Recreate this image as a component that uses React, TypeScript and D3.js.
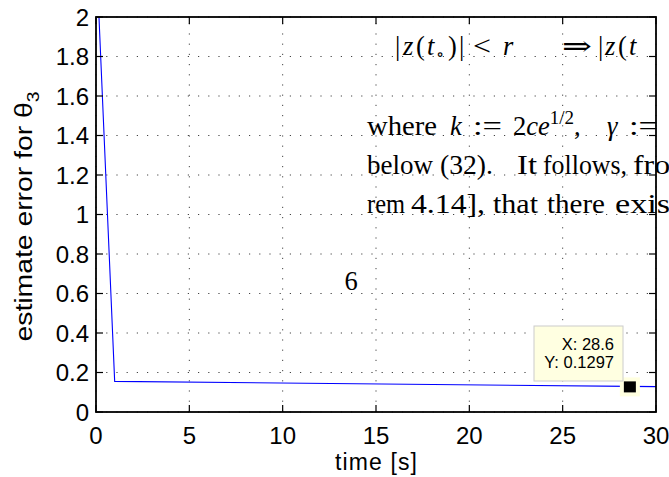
import * as d3 from "d3";

// series: estimate error for theta_3 over time
const timeValues = [0, 1, 28.6, 30];
const errorValues = [2.35, 0.155, 0.1297, 0.1285];

const xTicks = [0, 5, 10, 15, 20, 25, 30];
const yTicks = [0, 0.2, 0.4, 0.6, 0.8, 1, 1.2, 1.4, 1.6, 1.8, 2];

const tipX = 28.6;
const tipY = 0.1297;

// page text lying over the figure
const belowWords = ["below", "(32).", "It", "follows,", "from"];
const remWords = ["rem", "4.14],", "that", "there", "exists"];

const W = 669;
const H = 477;
const sans = "'Liberation Sans', Arial, sans-serif";
const serif = "'Liberation Serif', 'DejaVu Serif', serif";
const F = 26.5;

// word boxes [left, width] measured off the page scan
const belowBoxes = [[367, 66], [440, 53], [517, 20], [543, 84], [633, 62]];
const remBoxes = [[367, 38], [411, 74], [493, 45], [547, 58], [615, 78]];

function wordRow(words: string[], boxes: number[][], y: number) {
  return words.map((w, i) => (
    <text key={w + i} x={boxes[i][0]} y={y} textLength={boxes[i][1]} lengthAdjust="spacingAndGlyphs">{w}</text>
  ));
}

export default function App() {
  const xScale = d3.scaleLinear().domain([0, 30]).range([96, 656]);
  const yScale = d3.scaleLinear().domain([0, 2]).range([412, 17]);

  const pts: [number, number][] = timeValues.map((t, i) => [t, errorValues[i]]);
  const line = d3
    .line<[number, number]>()
    .x((d) => xScale(d[0]))
    .y((d) => yScale(d[1]));

  const x0 = xScale(0);
  const x1 = xScale(30);
  const y0 = yScale(0);
  const y1 = yScale(2);
  const tick = 7;
  const px = xScale(tipX);
  const py = yScale(tipY);

  return (
    <div style={{ position: "absolute", left: 0, top: 0 }}>
      <svg width={W} height={H} style={{ display: "block", background: "#fff" }}>
        <defs>
          <clipPath id="plotArea">
            <rect x={x0} y={y1} width={x1 - x0} height={y0 - y1} />
          </clipPath>
        </defs>

        {/* grid */}
        {xTicks.map((v) => (
          <line key={"gx" + v} x1={xScale(v)} x2={xScale(v)} y1={y0} y2={y1}
            stroke="#444" strokeWidth={1} strokeDasharray="1.2,9" />
        ))}
        {yTicks.map((v) => (
          <line key={"gy" + v} x1={x0} x2={x1} y1={yScale(v)} y2={yScale(v)}
            stroke="#444" strokeWidth={1} strokeDasharray="1.2,9" />
        ))}

        {/* data */}
        <path d={line(pts) || ""} fill="none" stroke="#0000ff" strokeWidth={1.1} clipPath="url(#plotArea)" />

        {/* axes box + ticks */}
        <rect x={x0} y={y1} width={x1 - x0} height={y0 - y1} fill="none" stroke="#000" strokeWidth={1.8} />
        {xTicks.map((v) => (
          <g key={"tx" + v}>
            <line x1={xScale(v)} x2={xScale(v)} y1={y0} y2={y0 - tick} stroke="#000" strokeWidth={1.2} />
            <line x1={xScale(v)} x2={xScale(v)} y1={y1} y2={y1 + tick} stroke="#000" strokeWidth={1.2} />
            <text x={xScale(v)} y={444} fontFamily={sans} fontSize={24} textAnchor="middle">{v}</text>
          </g>
        ))}
        {yTicks.map((v) => (
          <g key={"ty" + v}>
            <line x1={x0} x2={x0 + tick} y1={yScale(v)} y2={yScale(v)} stroke="#000" strokeWidth={1.2} />
            <line x1={x1} x2={x1 - tick} y1={yScale(v)} y2={yScale(v)} stroke="#000" strokeWidth={1.2} />
            <text x={89} y={yScale(v) + 8.5} fontFamily={sans} fontSize={24} textAnchor="end">{v}</text>
          </g>
        ))}

        <text x={(x0 + x1) / 2} y={470} fontFamily={sans} fontSize={23} textAnchor="middle"
          textLength={82} lengthAdjust="spacing">time [s]</text>
        <text transform={`translate(32,${(y0 + y1) / 2 + 2}) rotate(-90)`} fontFamily={sans} fontSize={23.5}
          textAnchor="middle" textLength={250} lengthAdjust="spacingAndGlyphs">
          estimate error for θ<tspan fontSize={16} dy={7}>3</tspan>
        </text>

        {/* data tip */}
        <rect x={px - 10} y={py - 9} width={20} height={19} fill="#ffffe0" />
        <rect x={px - 6} y={py - 5} width={12} height={11} fill="#000" />
        <rect x={534} y={326} width={89} height={55} fill="#ffffe1" stroke="#ccc" strokeWidth={1} />
        <text x={614} y={350} fontFamily={sans} fontSize={16.5} textAnchor="end">X: {tipX}</text>
        <text x={614} y={368} fontFamily={sans} fontSize={16.5} textAnchor="end">Y: {tipY}</text>

        {/* overlaid page text */}
        <g fontFamily={serif} fontSize={F} fill="#000">
          <text x={395} y={55}>|</text>
          <text x={403} y={55} fontStyle="italic">z</text>
          <text x={416} y={55}>(</text>
          <text x={427} y={55} fontStyle="italic">t</text>
          <text x={436} y={60} fontSize={17}>∘</text>
          <text x={448} y={55}>)</text>
          <text x={459} y={55}>|</text>
          <text x={473} y={55} textLength={18} lengthAdjust="spacingAndGlyphs">&lt;</text>
          <text x={503} y={55} fontStyle="italic">r</text>
          <text x={562} y={55} textLength={30} lengthAdjust="spacingAndGlyphs">⇒</text>
          <text x={598} y={55}>|</text>
          <text x={605} y={55} fontStyle="italic">z</text>
          <text x={618} y={55}>(</text>
          <text x={629} y={55} fontStyle="italic">t</text>

          <text x={367} y={135} textLength={70} lengthAdjust="spacingAndGlyphs">where</text>
          <text x={450} y={135} fontStyle="italic">k</text>
          <text x={473} y={135} textLength={29} lengthAdjust="spacingAndGlyphs">:=</text>
          <text x={513} y={135}>2<tspan fontStyle="italic">ce</tspan><tspan fontSize={19} dy={-11}>1/2</tspan><tspan dy={11}>,</tspan></text>
          <text x={607} y={135} fontStyle="italic">γ</text>
          <text x={629} y={135} textLength={29} lengthAdjust="spacingAndGlyphs">:=</text>

          {wordRow(belowWords, belowBoxes, 174)}
          {wordRow(remWords, remBoxes, 213)}

          <text x={351} y={290} textAnchor="middle">6</text>
        </g>
      </svg>
    </div>
  );
}
